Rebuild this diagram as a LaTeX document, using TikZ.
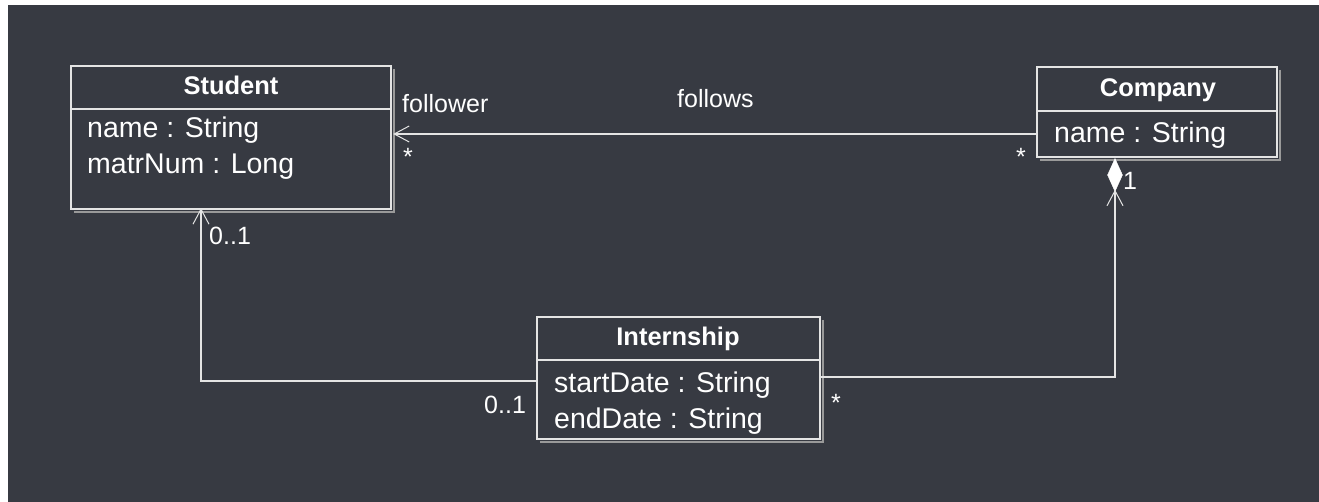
\documentclass[tikz,border=0pt]{standalone}
\usepackage{fontspec}
\setmainfont{Liberation Sans}
\usetikzlibrary{arrows.meta,shapes.geometric}
\definecolor{bgc}{HTML}{373A42}
\definecolor{linec}{HTML}{E4E4E4}
\definecolor{shadowc}{HTML}{9A9A9A}
\tikzset{
  classbox/.style={draw=linec, line width=1.3pt, inner sep=0pt, rectangle},
  shadowline/.style={draw=shadowc, line width=1.2pt},
  divider/.style={draw=linec, line width=1.3pt},
  titletext/.style={text=white, inner sep=0pt, anchor=base, font=\fontsize{25.5}{30}\selectfont\bfseries},
  attrtext/.style={text=white, inner sep=0pt, anchor=base west, font=\fontsize{28.5}{33}\selectfont},
  labeltext/.style={text=white, inner sep=0pt, anchor=base west, font=\fontsize{25}{30}\selectfont},
  conn/.style={draw=linec, line width=1.3pt},
  openarrow/.style={-{Straight Barb[length=15pt,width=16pt,line width=1pt]}},
  compdiamond/.style={diamond, fill=white, draw=white, inner sep=0pt, minimum width=15pt, minimum height=33pt}
}
\begin{document}
\begin{tikzpicture}[x=1pt,y=-1pt]
\useasboundingbox (0,0) rectangle (1319,502);
\fill[white] (0,0) rectangle (1319,502);
\fill[bgc] (8,5) rectangle (1319,502);

% Student
\draw[shadowline] (394,69) -- (394,212) -- (74,212);
\node[classbox, minimum width=320pt, minimum height=143pt] (student) at (231,137.5) {};
\draw[divider] (71,109) -- (391,109);
\node[titletext] (studentT) at (231,95) {Student};
\node[attrtext] (studentA1) at (87,138) {name : String};
\node[attrtext] (studentA2) at (87,174) {matrNum : Long};

% Company
\draw[shadowline] (1280,70) -- (1280,160) -- (1040,160);
\node[classbox, minimum width=240pt, minimum height=90pt] (company) at (1157,112) {};
\draw[divider] (1037,111) -- (1277,111);
\node[titletext] (companyT) at (1158,97) {Company};
\node[attrtext] (companyA1) at (1054,143) {name : String};

% Internship
\draw[shadowline] (823,320) -- (823,442) -- (540,442);
\node[classbox, minimum width=283pt, minimum height=122pt] (intern) at (678.5,378) {};
\draw[divider] (537,360) -- (820,360);
\node[titletext] (internT) at (678,345) {Internship};
\node[attrtext] (internA1) at (554,392) {startDate : String};
\node[attrtext] (internA2) at (554,428) {endDate : String};

% follows association
\coordinate (fy) at (0,134);
\draw[conn, openarrow] (company.west |- fy) -- ([xshift=1.5pt]student.east |- fy);
\node[labeltext] (lfollower) at (402,113) {follower};
\node[labeltext] (lfollows) at (677,108) {follows};
\node[labeltext] (lstar1) at (403,166) {*};
\node[labeltext] (lstar2) at (1016,166) {*};

% Internship -> Student
\coordinate (sa) at (201,381);
\draw[conn, openarrow] (intern.west |- sa) -| ([yshift=1.5pt]student.south -| sa);
\node[labeltext] (l01a) at (209,245) {0..1};
\node[labeltext] (l01b) at (484,413) {0..1};

% Internship -> Company (composition)
\node[compdiamond] (dia) at (1115,175) {};
\coordinate (ca) at (1115,377);
\draw[conn, openarrow] (intern.east |- ca) -| ([yshift=2pt]dia.south);
\node[labeltext] (l1) at (1123,190) {1};
\node[labeltext] (lstar3) at (831,411) {*};
\end{tikzpicture}
\end{document}
